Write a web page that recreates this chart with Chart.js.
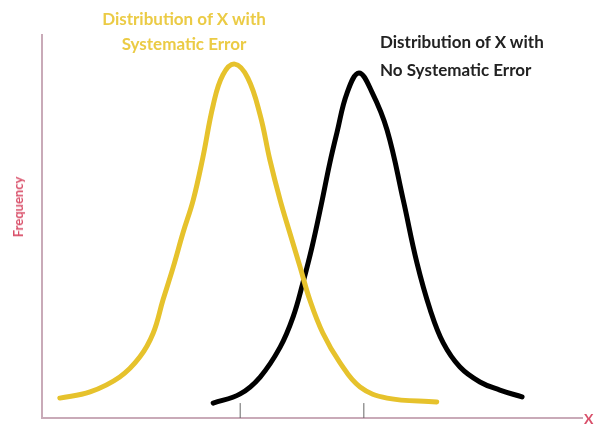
<!DOCTYPE html>
<html>
<head>
<meta charset="utf-8">
<script src="https://cdn.jsdelivr.net/npm/chart.js@4.4.1/dist/chart.umd.min.js"></script>
<style>
  html, body { margin: 0; padding: 0; background: #fff; }
  #wrap { position: relative; width: 595px; height: 425px; }
  .lbl { position: absolute; font-family: Lato, "Open Sans", sans-serif; font-weight: bold; white-space: nowrap; }
  #yellowLbl { left: 84px; top: 6px; width: 200px; text-align: center; color: #EBCB45; font-size: 17px; line-height: 25px; }
  #blackLbl { left: 380px; top: 28px; color: #222; font-size: 17px; line-height: 28px; }
  #freq { left: 18px; top: 207px; color: #D9506A; font-size: 13px; transform: translate(-50%, -50%) rotate(-90deg); }
  #xLbl { left: 584px; top: 410px; color: #D9506A; font-size: 14px; }
</style>
</head>
<body>
<div id="wrap">
  <canvas id="distChart" width="595" height="425"></canvas>
  <div class="lbl" id="yellowLbl">Distribution of X with<br>Systematic Error</div>
  <div class="lbl" id="blackLbl">Distribution of X with<br>No Systematic Error</div>
  <div class="lbl" id="freq">Frequency</div>
  <div class="lbl" id="xLbl">X</div>
</div>
<script>
// curves, x and y both on a 0-100 scale
const systematicX = [3.3, 8.9, 14.4, 18.1, 20.6, 22.4, 24.3, 26.1, 28.0, 29.8, 31.7, 33.5, 35.7, 38.1, 40.4, 42.2, 44.1, 45.9, 47.8, 49.6, 52.0, 55.2, 58.9, 63.9, 73.1];
const systematicY = [5.2, 6.8, 10.7, 15.9, 22.2, 30.8, 39.4, 48.3, 56.9, 68.1, 81.7, 89.6, 92.4, 88.8, 79.1, 67.4, 56.9, 48.3, 39.4, 30.8, 22.2, 14.4, 8.1, 5.2, 4.2];

const trueX = [31.7, 36.7, 40.4, 44.1, 46.5, 48.3, 50.0, 51.7, 53.3, 54.6, 56.5, 58.7, 61.1, 63.9, 66.9, 69.4, 71.9, 74.3, 77.4, 81.1, 84.8, 88.9];
const trueY = [3.9, 6.3, 10.7, 18.5, 26.4, 35.2, 44.6, 55.6, 66.6, 74.4, 84.9, 90.1, 85.1, 75.2, 56.9, 40.7, 28.2, 19.6, 13.3, 9.4, 7.3, 5.5];

// small marks on the x axis under each mean
const tickX = [36.7, 59.6];
const tickHeight = 3.9;

const toPoints = (xs, ys) => xs.map((x, i) => ({ x: x, y: ys[i] }));

const tickPoints = [];
tickX.forEach(x => {
  tickPoints.push({ x: x, y: 0 });
  tickPoints.push({ x: x, y: tickHeight });
  tickPoints.push({ x: x, y: null });
});

const axisColor = '#C9AAB8';

new Chart(document.getElementById('distChart'), {
  type: 'scatter',
  data: {
    datasets: [
      {
        label: 'Systematic Error',
        data: toPoints(systematicX, systematicY),
        showLine: true,
        borderColor: '#E6C22C',
        borderWidth: 5,
        borderCapStyle: 'round',
        tension: 0.4,
        pointRadius: 0
      },
      {
        label: 'No Systematic Error',
        data: toPoints(trueX, trueY),
        showLine: true,
        borderColor: '#000000',
        borderWidth: 5,
        borderCapStyle: 'round',
        tension: 0.4,
        pointRadius: 0
      },
      {
        label: 'ticks',
        data: tickPoints,
        showLine: true,
        spanGaps: false,
        borderColor: '#666666',
        borderWidth: 1,
        pointRadius: 0
      }
    ]
  },
  options: {
    responsive: false,
    animation: false,
    layout: { padding: { left: 42, right: 13, top: 35, bottom: 7 } },
    plugins: {
      legend: { display: false },
      tooltip: { enabled: false }
    },
    scales: {
      x: {
        type: 'linear',
        min: 0,
        max: 100,
        grid: { display: false },
        ticks: { display: false },
        border: { display: true, color: axisColor, width: 2 },
        afterFit: s => { s.height = 0; }
      },
      y: {
        type: 'linear',
        min: 0,
        max: 100,
        grid: { display: false },
        ticks: { display: false },
        border: { display: true, color: axisColor, width: 2 },
        afterFit: s => { s.width = 0; }
      }
    }
  }
});
</script>
</body>
</html>
